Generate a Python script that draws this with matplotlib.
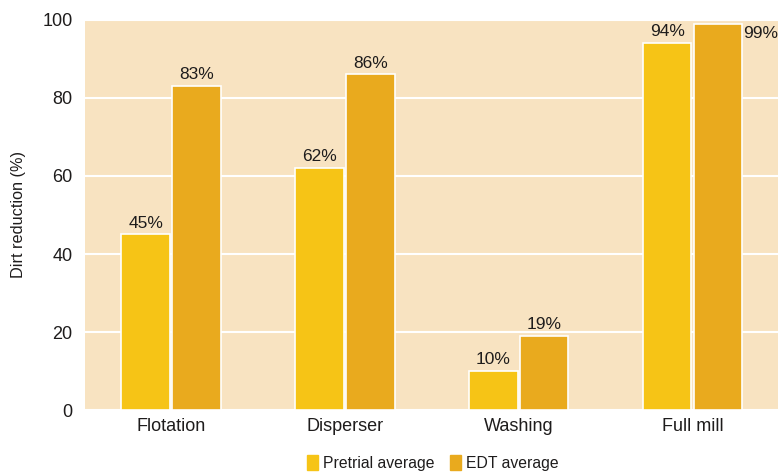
import matplotlib
matplotlib.use("Agg")
import matplotlib.pyplot as plt
import numpy as np
from matplotlib.patches import Patch

categories = ["Flotation", "Disperser", "Washing", "Full mill"]
pretrial = [45, 62, 10, 94]
edt = [83, 86, 19, 99]
series_names = ["Pretrial average", "EDT average"]
yticks = [0, 20, 40, 60, 80, 100]

plt.rcParams['font.family'] = ['Liberation Sans Narrow', 'Liberation Sans', 'DejaVu Sans']

c_pre = "#F6C416"
c_edt = "#E9AA1E"
bg = "#F8E3C1"
txt = "#1E1C1C"

fig = plt.figure(figsize=(7.8, 4.73), dpi=100)
ax = fig.add_axes([0.109, 0.133, 0.888, 0.825])
ax.set_facecolor(bg)
x = np.arange(len(categories))
w = 0.28
gap = 0.006
ax.bar(x - w/2 - gap, pretrial, w, color=c_pre, edgecolor="white", linewidth=1.2, zorder=3)
ax.bar(x + w/2 + gap, edt, w, color=c_edt, edgecolor="white", linewidth=1.2, zorder=3)

vfs = 12.5
for i, v in enumerate(pretrial):
    ax.text(x[i] - w/2 - gap, v + 1.0, f"{v}%", ha="center", va="bottom", fontsize=vfs, color=txt, zorder=4)
for i, v in enumerate(edt):
    if i == len(edt) - 1:
        ax.text(x[i] + w + 0.01, v - 4.5, f"{v}%", ha="left", va="bottom", fontsize=vfs, color=txt, zorder=4)
    else:
        ax.text(x[i] + w/2 + gap, v + 1.0, f"{v}%", ha="center", va="bottom", fontsize=vfs, color=txt, zorder=4)

ax.set_xlim(-0.495, 3.49)
ax.set_ylim(0, 100)
ax.set_yticks(yticks)
ax.set_yticklabels([str(t) for t in yticks], fontsize=13, color=txt)
ax.set_xticks(x)
ax.set_xticklabels(categories, fontsize=13, color=txt)
ax.tick_params(axis='y', length=0, pad=9)
ax.tick_params(axis='x', length=0, pad=6)
ax.yaxis.grid(True, color="white", linewidth=1.5, zorder=1)
ax.set_axisbelow(True)
for s in ax.spines.values():
    s.set_visible(False)
ax.set_ylabel("Dirt reduction (%)", fontsize=11.7, color=txt, labelpad=12)

handles = [Patch(color=c_pre), Patch(color=c_edt)]
fig.legend(handles, series_names, loc="center", bbox_to_anchor=(0.555, 0.022), ncol=2, frameon=False,
           fontsize=11.3, handlelength=0.7, handleheight=1.1, handletextpad=0.3, columnspacing=1.0,
           labelcolor=txt)

fig.savefig("out.png", dpi=100)
